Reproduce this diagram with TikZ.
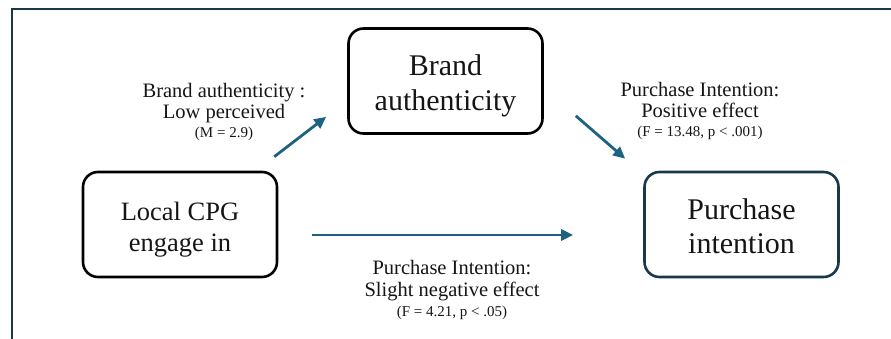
\documentclass[tikz,border=0pt]{standalone}
\usepackage{fontspec}
\setmainfont{Liberation Serif}
\usetikzlibrary{arrows.meta}

\definecolor{framecol}{HTML}{17394A}
\definecolor{arrowcol}{HTML}{1D6282}
\definecolor{inkcol}{HTML}{151515}

% small third line of a path label
\newcommand{\statline}[1]{{\fontsize{15}{17}\selectfont #1}}

\begin{document}
\begin{tikzpicture}[x=1pt, y=-1pt,
  box/.style={draw, line width=2.6pt, rounded corners=15pt, minimum width=194pt,
    minimum height=105pt, inner sep=0pt, align=center, text=inkcol},
  lab/.style={align=center, text=inkcol, inner sep=0pt, font=\fontsize{20.5}{21}\selectfont},
  link/.style={arrowcol, line width=2.8pt, -{Triangle[length=12pt,width=11pt]}}]

\useasboundingbox (0,0) rectangle (891,339);

% Frame (top and left edge only)
\draw[framecol, line width=2.6pt] (891,9) -- (12,9) -- (12,339);

% Boxes
\node[box, font=\fontsize{26.5}{31}\selectfont] (local) at (180,224.5) {\rule{0pt}{28pt}Local CPG\\engage in};
\node[box, font=\fontsize{30}{35}\selectfont] (brand) at (445.5,81) {\rule{0pt}{30pt}Brand\\authenticity};
\node[box, draw=framecol, font=\fontsize{30}{34}\selectfont] (purchase) at (741.5,224.5) {\rule{0pt}{25pt}Purchase\\intention};

% Paths between the boxes
\draw[link] ([shift={(-4,-14)}]local.north east) -- ([shift={(-21,-18)}]brand.south west);
\draw[link] ([shift={(32,-19)}]brand.south east) -- ([shift={(-18,-12)}]purchase.north west);
\draw[link] ([shift={(34,10.5)}]local.east) -- ([shift={(-70,10.5)}]purchase.west);

% Labels of the paths
\node[lab] (labBrand) at (224,112) {Brand authenticity :\\Low perceived\\[-2pt]\statline{(M = 2.9)}};
\node[lab] (labPos) at (700,111) {Purchase Intention:\\Positive effect\\[-2pt]\statline{(F = 13.48, p < .001)}};
\node[lab] (labNeg) at (452,290) {Purchase Intention:\\[1pt]Slight negative effect\\[-1pt]\statline{(F = 4.21, p < .05)}};

\end{tikzpicture}
\end{document}
